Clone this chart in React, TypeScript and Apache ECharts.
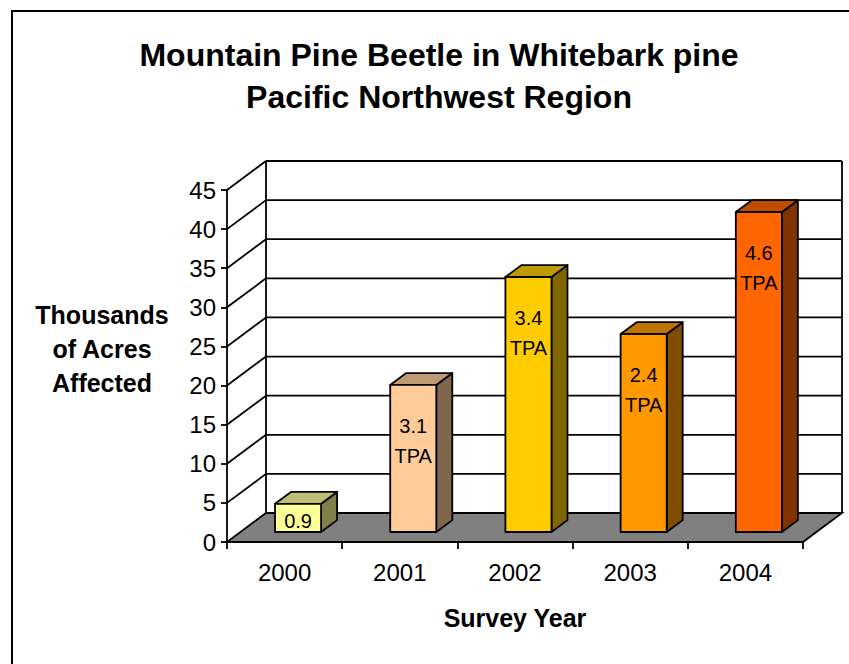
import React, { useEffect, useRef } from "react";
import * as echarts from "echarts";

// Survey years and thousands of acres affected
const years = ["2000", "2001", "2002", "2003", "2004"];
const acresThousands = [3.6, 18.8, 32.6, 25.3, 40.9];
// Trees-per-acre annotation printed on each bar
const tpaLabels = ["0.9", "3.1\nTPA", "3.4\nTPA", "2.4\nTPA", "4.6\nTPA"];
const barColors = ["#FFFF99", "#FFCC99", "#FFCC00", "#FF9900", "#FF6600"];
const yTicks = [0, 5, 10, 15, 20, 25, 30, 35, 40, 45];

const FONT = '"Liberation Sans", Arial, sans-serif';

// pseudo-3D depth of the plot box (pixels) and bar placement within it
const DEPTH_X = 39;
const DEPTH_Y = 29;
const BAR_FRONT = 0.345;
const BAR_DEPTH = 0.41;
const BAR_WIDTH = 0.4;
const LINE_W = 1.8;

function shade(hex: string, k: number): string {
  const n = parseInt(hex.slice(1), 16);
  const r = Math.round(((n >> 16) & 255) * k);
  const g = Math.round(((n >> 8) & 255) * k);
  const b = Math.round((n & 255) * k);
  return `rgb(${r},${g},${b})`;
}

export default function App() {
  const ref = useRef<HTMLDivElement>(null);

  useEffect(() => {
    if (!ref.current) return;
    const chart = echarts.init(ref.current, undefined, { renderer: "svg" });
    const yMax = yTicks[yTicks.length - 1];

    const option: any = {
      animation: false,
      backgroundColor: "#ffffff",
      grid: { left: 227, right: 46, top: 190, bottom: 122 },
      xAxis: {
        type: "category",
        data: years,
        boundaryGap: true,
        axisLine: { show: true, lineStyle: { color: "#000", width: LINE_W } },
        axisTick: { show: true, length: 7, lineStyle: { color: "#000", width: LINE_W } },
        axisLabel: { color: "#000", fontSize: 24, fontFamily: FONT, margin: 18 },
        splitLine: { show: false },
        name: "Survey Year",
        nameLocation: "middle",
        nameGap: 63,
        nameTextStyle: { color: "#000", fontSize: 25, fontWeight: "bold", fontFamily: FONT },
      },
      yAxis: {
        type: "value",
        min: 0,
        max: yMax,
        interval: 5,
        axisLine: { show: true, lineStyle: { color: "#000", width: LINE_W } },
        axisTick: { show: true, length: 6, lineStyle: { color: "#000", width: LINE_W } },
        axisLabel: { color: "#000", fontSize: 24, fontFamily: FONT, margin: 11 },
        splitLine: { show: false },
      },
      graphic: [
        {
          type: "rect",
          shape: { x: 12, y: 11, width: 900, height: 700 },
          style: { fill: "none", stroke: "#000", lineWidth: 2 },
          silent: true,
        },
        {
          type: "text",
          x: 439,
          y: 34,
          style: {
            text: "Mountain Pine Beetle in Whitebark pine\nPacific Northwest Region",
            textAlign: "center",
            textVerticalAlign: "top",
            font: `bold 32px ${FONT}`,
            lineHeight: 42,
            fill: "#000",
          },
        },
        {
          type: "text",
          x: 102,
          y: 298,
          style: {
            text: "Thousands\nof Acres\nAffected",
            textAlign: "center",
            textVerticalAlign: "top",
            font: `bold 25px ${FONT}`,
            lineHeight: 34,
            fill: "#000",
          },
        },
      ],
      series: [
        {
          // back wall gridlines, side diagonals and the grey floor
          type: "custom",
          clip: false,
          silent: true,
          z: 1,
          data: yTicks.map((v) => [0, v]),
          renderItem: (params: any, api: any) => {
            const v = api.value(1);
            const band = api.size([1, 0])[0];
            const p0 = api.coord([0, v]);
            const pN = api.coord([years.length - 1, v]);
            const left = p0[0] - band / 2;
            const right = pN[0] + band / 2;
            const y = p0[1];
            const line = { stroke: "#000", lineWidth: LINE_W };
            const children: any[] = [];
            if (v === 0) {
              const yTop = api.coord([0, yMax])[1];
              children.push({
                type: "line",
                shape: { x1: left + DEPTH_X, y1: y - DEPTH_Y, x2: left + DEPTH_X, y2: yTop - DEPTH_Y },
                style: line,
              });
              children.push({
                type: "line",
                shape: { x1: right + DEPTH_X, y1: y - DEPTH_Y, x2: right + DEPTH_X, y2: yTop - DEPTH_Y },
                style: line,
              });
              children.push({
                type: "polygon",
                shape: {
                  points: [
                    [left, y],
                    [right, y],
                    [right + DEPTH_X, y - DEPTH_Y],
                    [left + DEPTH_X, y - DEPTH_Y],
                  ],
                },
                style: { fill: "#808080", stroke: "#000", lineWidth: LINE_W },
              });
            } else {
              children.push({
                type: "line",
                shape: { x1: left + DEPTH_X, y1: y - DEPTH_Y, x2: right + DEPTH_X, y2: y - DEPTH_Y },
                style: line,
              });
              children.push({
                type: "line",
                shape: { x1: left, y1: y, x2: left + DEPTH_X, y2: y - DEPTH_Y },
                style: line,
              });
            }
            return { type: "group", children };
          },
        },
        {
          // 3-D bars
          type: "custom",
          clip: false,
          z: 2,
          data: acresThousands.map((v, i) => [i, v]),
          renderItem: (params: any, api: any) => {
            const i = api.value(0);
            const v = api.value(1);
            const base = api.coord([i, 0]);
            const top = api.coord([i, v]);
            const band = api.size([1, 0])[0];
            const w = band * BAR_WIDTH;
            const ox = DEPTH_X * BAR_FRONT;
            const oy = DEPTH_Y * BAR_FRONT;
            const dx = DEPTH_X * BAR_DEPTH;
            const dy = DEPTH_Y * BAR_DEPTH;
            const x = base[0] + ox - w / 2;
            const by = base[1] - oy;
            const ty = top[1] - oy;
            const col = barColors[i];
            const edge = { stroke: "#000", lineWidth: LINE_W, lineJoin: "round" };
            const firstLine = Math.min(ty + 41, (ty + by) / 2 + 3);
            return {
              type: "group",
              children: [
                {
                  type: "polygon",
                  shape: { points: [[x + w, ty], [x + w, by], [x + w + dx, by - dy], [x + w + dx, ty - dy]] },
                  style: { fill: shade(col, 0.5), ...edge },
                },
                {
                  type: "polygon",
                  shape: { points: [[x, ty], [x + w, ty], [x + w + dx, ty - dy], [x + dx, ty - dy]] },
                  style: { fill: shade(col, 0.75), ...edge },
                },
                {
                  type: "rect",
                  shape: { x, y: ty, width: w, height: by - ty },
                  style: { fill: col, ...edge },
                },
                {
                  type: "text",
                  style: {
                    text: tpaLabels[i],
                    x: x + w / 2,
                    y: firstLine - 15,
                    textAlign: "center",
                    textVerticalAlign: "top",
                    font: `20px ${FONT}`,
                    lineHeight: 30,
                    fill: "#000",
                  },
                },
              ],
            };
          },
        },
      ],
    };

    chart.setOption(option);
    return () => chart.dispose();
  }, []);

  return (
    <div
      ref={ref}
      style={{ position: "fixed", left: 0, top: 0, width: 849, height: 664, background: "#fff" }}
    />
  );
}
